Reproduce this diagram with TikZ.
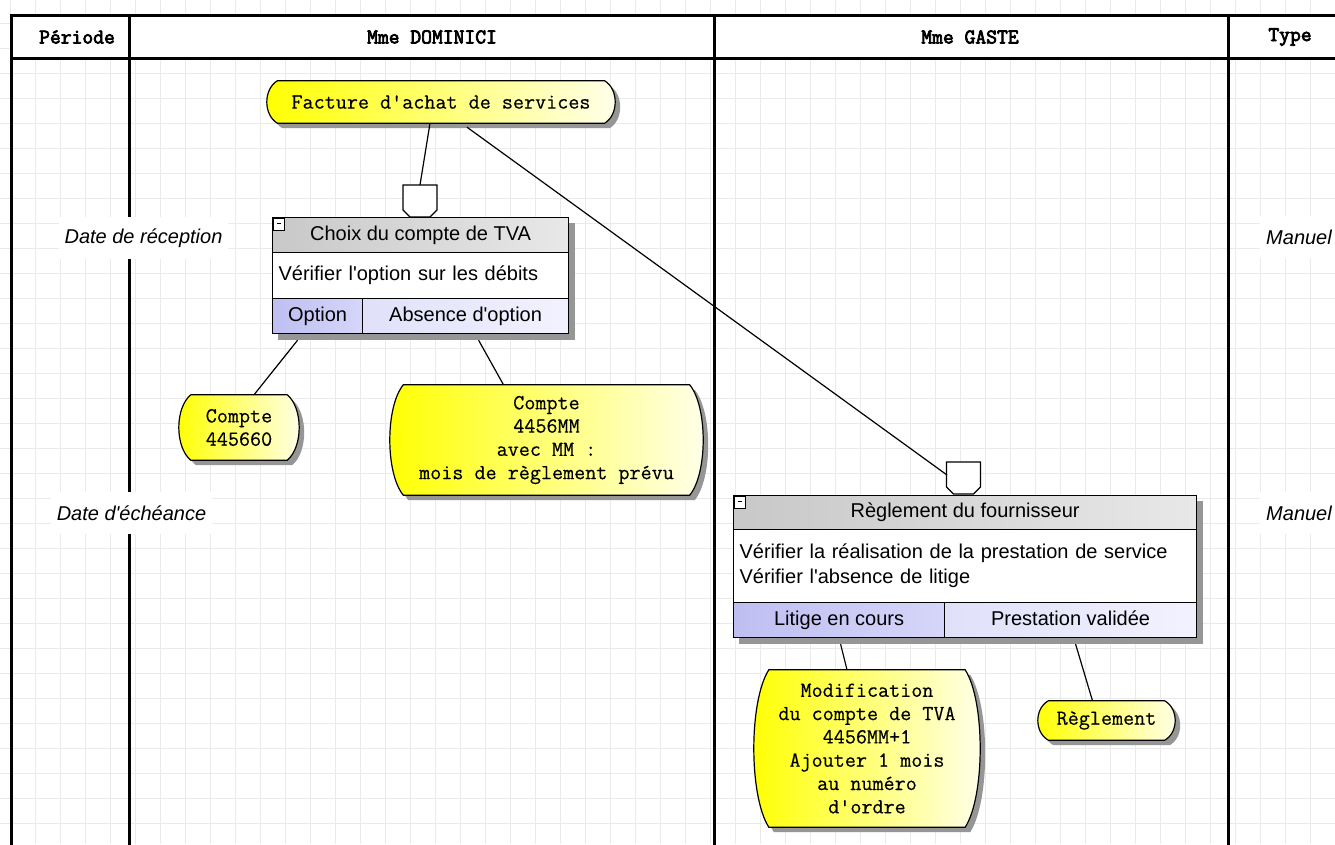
\documentclass[tikz,border=0pt]{standalone}
\usepackage{fontspec}
\setmainfont{Liberation Sans}
\newfontfamily\evfont[FakeBold=0.4]{Latin Modern Mono}
\newfontfamily\hdrfont[FakeBold=3.5]{Latin Modern Mono}
\usetikzlibrary{calc,shadows}
\pgfdeclarelayer{bg}
\pgfdeclarelayer{shp}
\pgfsetlayers{bg,shp,main}
\definecolor{gridc}{RGB}{234,234,234}
\definecolor{optl}{RGB}{190,190,242}
\definecolor{optr}{RGB}{214,214,250}
\definecolor{absl}{RGB}{224,224,250}
\definecolor{absr}{RGB}{242,242,255}
\definecolor{hdl}{RGB}{200,200,200}
\definecolor{hdr}{RGB}{232,232,232}
\definecolor{evy}{RGB}{255,255,0}
\definecolor{evw}{RGB}{255,255,236}
\definecolor{shd}{RGB}{150,150,150}
\newcommand\myq{\textquotesingle}
\newcommand\evpath[2]{(#1.north west) -- (#1.north east) .. controls ($(#1.north east)!0.2!(#1.south east)+(#2,0)$) and ($(#1.north east)!0.8!(#1.south east)+(#2,0)$) .. (#1.south east) -- (#1.south west) .. controls ($(#1.north west)!0.8!(#1.south west)+(-#2,0)$) and ($(#1.north west)!0.2!(#1.south west)+(-#2,0)$) .. (#1.north west) -- cycle}
\newcommand\pentapath[1]{($(#1)+(-17,0)$) -- ($(#1)+(17,0)$) -- ($(#1)+(17,25)$) -- ($(#1)+(10,32)$) -- ($(#1)+(-10,32)$) -- ($(#1)+(-17,25)$) -- cycle}
\begin{document}
\begin{tikzpicture}[x=1pt,y=-1pt,
  tline/.style={line width=3pt,line cap=rect},
  conn/.style={line width=1.2pt},
  ev/.style={inner sep=0pt, align=center, font=\evfont\fontsize{21.5}{23.3}\selectfont},
  evshape/.style={draw=black, line width=1.2pt, left color=evy, right color=evw,
    drop shadow={shadow xshift=5pt,shadow yshift=-5pt,fill=shd,opacity=1}},
  boxshadow/.style={fill=white, drop shadow={shadow xshift=6pt,shadow yshift=-6pt,fill=shd,opacity=1}},
  cell/.style={draw=black, line width=1.2pt, inner sep=0pt, anchor=north west, font=\fontsize{20}{25}\selectfont},
  hcell/.style={cell, left color=hdl, right color=hdr, text height=14.5pt, text depth=4.5pt},
  bcell/.style={cell, fill=white, align=left, inner xsep=6pt},
  ocell/.style={cell, left color=optl, right color=optr, text height=14.5pt, text depth=4.5pt},
  acell/.style={cell, left color=absl, right color=absr, text height=14.5pt, text depth=4.5pt},
  mini/.style={draw=black, line width=1pt, fill=white, minimum width=11pt, minimum height=12pt, inner sep=0pt, anchor=north west},
  penta/.style={draw=black, line width=1.2pt, fill=white},
  lbl/.style={font=\itshape\fontsize{20}{24}\selectfont, fill=white, minimum height=42pt, inner xsep=6pt},
  hdr/.style={font=\hdrfont\fontsize{21}{22}\selectfont}
]
\useasboundingbox (0,0) rectangle (1335,844);
\begin{pgfonlayer}{bg}
  \fill[white] (0,0) rectangle (1335,844);
  \foreach \gx in {10,35,...,1335} \draw[gridc, line width=1pt] (\gx,0) -- (\gx,844);
  \foreach \gy in {23,48,...,844} \draw[gridc, line width=1pt] (0,\gy) -- (1335,\gy);
  \fill[white] (11,15) rectangle (1335,58);
  \draw[tline] (11,15) -- (1340,15);
  \draw[tline] (11,58) -- (1340,58);
  \draw[tline] (11,15) -- (11,850);
  \draw[tline] (129,15) -- (129,850);
  \draw[tline] (714,15) -- (714,850);
  \draw[tline] (1228,15) -- (1228,850);
  \node[lbl] (lrec) at (143.5,238) {Date de réception};
  \node[lbl] (lech) at (131.5,513) {Date d\myq échéance};
  \node[lbl] (lman1) at (1299,237) {Manuel};
  \node[lbl] (lman2) at (1299,513) {Manuel};
\end{pgfonlayer}
% headers
\node[hdr] (hper) at (77,37) {Période};
\node[hdr] (hdom) at (432,37) {Mme DOMINICI};
\node[hdr] (hgas) at (970,37) {Mme GASTE};
\node[hdr] (htyp) at (1290,37) {Type};
% events
\node[ev, minimum width=327pt, minimum height=42pt] (ev1) at (441,102) {Facture d\myq achat de services};
\node[ev, minimum width=96pt, minimum height=65pt] (ev2) at (239,427.5) {Compte\\445660};
\node[ev, minimum width=286pt, minimum height=110pt] (ev3) at (546.5,440) {Compte\\4456MM\\avec MM :\\mois de règlement prévu};
\node[ev, minimum width=196pt, minimum height=157pt] (ev4) at (867,748.5) {Modification\\du compte de TVA\\4456MM+1\\Ajouter 1 mois\\au numéro\\d\myq ordre};
\node[ev, minimum width=116pt, minimum height=39pt] (ev5) at (1106.5,720.5) {Règlement};
% box 1
\node[hcell, minimum width=296pt, minimum height=35pt] (b1h) at (272,217) {Choix du compte de TVA};
\node[bcell, minimum width=296pt, text width=284pt, minimum height=46pt] (b1b) at (272,252) {Vérifier l\myq option sur les débits};
\node[ocell, minimum width=90pt, minimum height=35pt] (b1o) at (272,298) {Option};
\node[acell, minimum width=206pt, minimum height=35pt] (b1a) at (362,298) {Absence d\myq option};
\node[mini] (m1) at (273,218) {};
% box 2
\node[hcell, minimum width=463pt, minimum height=34pt] (b2h) at (733,495) {Règlement du fournisseur};
\node[bcell, minimum width=463pt, text width=451pt, minimum height=73pt] (b2b) at (733,529) {Vérifier la réalisation de la prestation de service\\Vérifier l\myq absence de litige};
\node[ocell, minimum width=211pt, minimum height=35pt] (b2l) at (733,602) {Litige en cours};
\node[acell, minimum width=252pt, minimum height=35pt] (b2p) at (944,602) {Prestation validée};
\node[mini] (m2) at (734,496) {};
\draw[line width=1.2pt] ([xshift=-2.5pt,yshift=1pt]m1.center) -- ([xshift=2pt,yshift=1pt]m1.center);
\draw[line width=1.2pt] ([xshift=-2.5pt,yshift=1pt]m2.center) -- ([xshift=2pt,yshift=1pt]m2.center);
% gate shapes
\coordinate (p1) at (420,185);
\coordinate (p2) at (963.5,462);
\coordinate (p2in) at (947,475);
\begin{pgfonlayer}{shp}
  \draw[evshape] \evpath{ev1}{14};
  \draw[evshape] \evpath{ev2}{16};
  \draw[evshape] \evpath{ev3}{18};
  \draw[evshape] \evpath{ev4}{20};
  \draw[evshape] \evpath{ev5}{14};
  \path[boxshadow] (b1h.north west) rectangle (b1a.south east);
  \path[boxshadow] (b2h.north west) rectangle (b2p.south east);
  \draw[penta] \pentapath{p1};
  \draw[penta] \pentapath{p2};
\end{pgfonlayer}
% connectors
\draw[conn] ([xshift=-11pt]ev1.south) -- (p1);
\draw[conn] ([xshift=26pt,yshift=-4pt]ev1.south) -- (p2in);
\draw[conn] ([xshift=-20pt,yshift=-6pt]b1o.south) -- ([xshift=15pt]ev2.north);
\draw[conn] ([xshift=13pt,yshift=-6pt]b1a.south) -- ([xshift=-43pt]ev3.north);
\draw[conn] ([xshift=1.5pt,yshift=-6pt]b2l.south) -- ([xshift=-20pt]ev4.north);
\draw[conn] ([xshift=5pt,yshift=-6pt]b2p.south) -- ([xshift=-14pt]ev5.north);
\end{tikzpicture}
\end{document}
